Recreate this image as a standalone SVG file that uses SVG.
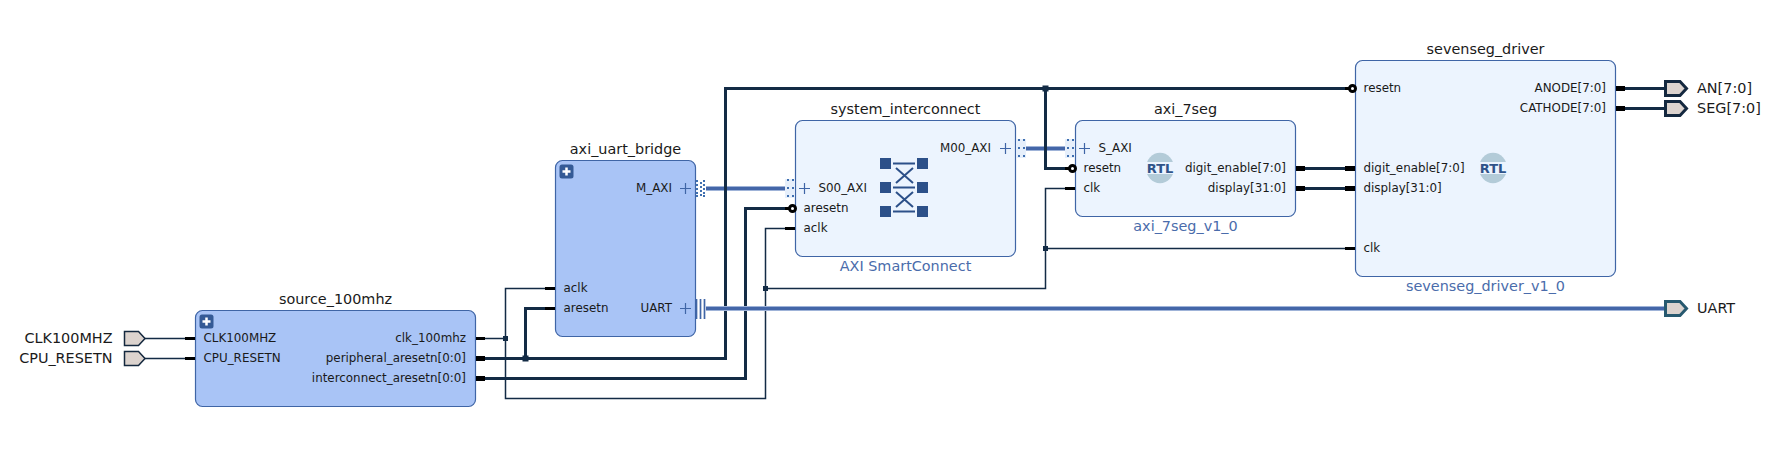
<svg xmlns="http://www.w3.org/2000/svg" xmlns:xlink="http://www.w3.org/1999/xlink" width="1765" height="468" viewBox="0 0 1765 468">
<style>
text{font-family:"DejaVu Sans",Verdana,sans-serif;fill:#1a1a1a}
.l{font-size:11.9px}
.r{font-size:11.9px;text-anchor:end}
.t{font-size:14.4px;text-anchor:middle}
.e{font-size:14.4px}
.er{font-size:14.4px;text-anchor:end}
.s{font-size:14.4px;text-anchor:middle;fill:#4a6cab}
.hier{fill:#a9c4f6;stroke:#3f65a6;stroke-width:1.2}
.ip{fill:#ecf4fe;stroke:#3f65a6;stroke-width:1.2}
.w1{fill:none;stroke:#132b45;stroke-width:1.5}
.w3{fill:none;stroke:#132b45;stroke-width:3}
.ia{fill:none;stroke:#9fb3d8;stroke-width:5}
.ib{fill:none;stroke:#4466a8;stroke-width:3}
.j{fill:#132b45}
.st{fill:#000}
.plus{fill:none;stroke:#3f65a6;stroke-width:1.2}
.bub{fill:#fff;stroke:#000;stroke-width:3}
.dot{fill:#3f6fb0}
.pad{fill:#e6effb}
.ext{fill:#dcd3ce;stroke:#14283f;stroke-width:1.5}
.extb{fill:#dcd3ce;stroke:#14283f;stroke-width:3}
.extu{fill:#dcd3ce;stroke:#27596f;stroke-width:3}
.rtlc{fill:#b3cbd8}
.rtlb{fill:#ecf4fe}
.rtlt{font-size:13px;font-weight:bold;fill:#2f5389;text-anchor:middle}
.ico{fill:#2c5089}
.icl{fill:none;stroke:#2c5089;stroke-width:2}
.icx{fill:none;stroke:#2c5089;stroke-width:2}
</style>
<defs>
<g id="dotsOut">
<rect class="dot" x="696" y="180" width="2" height="2"/><rect class="dot" x="696" y="184" width="2" height="2"/><rect class="dot" x="696" y="188" width="2" height="2"/><rect class="dot" x="696" y="192" width="2" height="2"/><rect class="dot" x="696" y="195" width="2" height="2"/>
<rect class="dot" x="700" y="182" width="2" height="2"/><rect class="dot" x="700" y="186" width="2" height="2"/><rect class="dot" x="700" y="190" width="2" height="2"/><rect class="dot" x="700" y="194" width="2" height="2"/>
<rect class="dot" x="703" y="180" width="2" height="2"/><rect class="dot" x="703" y="184" width="2" height="2"/><rect class="dot" x="703" y="188" width="2" height="2"/><rect class="dot" x="703" y="192" width="2" height="2"/><rect class="dot" x="703" y="195" width="2" height="2"/>
</g>
<g id="dotsIn">
<rect class="pad" x="785" y="179" width="10" height="19"/>
<rect class="dot" x="787" y="179" width="2" height="2"/><rect class="dot" x="792" y="179" width="2" height="2"/>
<rect class="dot" x="787" y="187" width="2" height="2"/><rect class="dot" x="792" y="187" width="2" height="2"/>
<rect class="dot" x="787" y="195" width="2" height="2"/><rect class="dot" x="792" y="195" width="2" height="2"/>
</g>
<g id="rtl">
<ellipse class="rtlc" cx="0" cy="0" rx="14" ry="15.3"/>
<rect class="rtlb" x="-14" y="-6" width="28" height="12"/>
<text class="rtlt" x="0" y="5">RTL</text>
</g>
</defs>

<g id="connectors">
<path class="w1" d="M145 338.5H185"/>
<path class="w1" d="M145 358.5H185"/>
<path class="w1" d="M485 338.5H505.5V288.5H545M505.5 338.5V398.5H765.5V228.5H785M765.5 288.5H1045.5V188.5H1065M1045.5 248.5H1345"/>
<path class="w3" d="M485 358.5H725.5V88.5H1345M525.5 358.5V308.5H545M1045.5 88.5V168.5H1065"/>
<path class="w3" d="M485 378.5H745.5V208.5H785"/>
<path class="w3" d="M1305 168.5H1345M1305 188.5H1345"/>
<path class="w3" d="M1625 88.5H1665M1625 108.5H1665"/>
<path class="ia" d="M706 188.5H785M1025 148.5H1065M706 308.5H1665"/>
<path class="ib" d="M706 188.5H785M1025 148.5H1065M706 308.5H1665"/>
<path class="w3" d="M725.5 180V197"/>
<path class="w3" d="M1045.5 140V157"/>
<rect class="j" x="503" y="336" width="5" height="5"/>
<rect class="j" x="522.5" y="355.5" width="6" height="6"/>
<rect class="j" x="763" y="286" width="5" height="5"/>
<rect class="j" x="1043" y="246" width="5" height="5"/>
<rect class="j" x="1042.5" y="85.5" width="6" height="6"/>
</g>

<g id="port_CLK100MHZ">
<path class="ext" d="M124.5 331.5H138.5L145 338.5L138.5 345.5H124.5Z"/>
<text class="er" x="112.5" y="343">CLK100MHZ</text>
</g>
<g id="port_CPU_RESETN">
<path class="ext" d="M124.5 351.5H138.5L145 358.5L138.5 365.5H124.5Z"/>
<text class="er" x="112.5" y="363">CPU_RESETN</text>
</g>

<g id="source_100mhz">
<text class="t" x="335.5" y="304">source_100mhz</text>
<rect class="hier" x="195.5" y="310.5" width="280" height="96" rx="7"/>
<rect x="199.5" y="314.5" width="14" height="14" rx="2.5" fill="#345a96"/>
<path d="M206.5 317.5V325.5M202.5 321.5H210.5" stroke="#fff" stroke-width="2.5" fill="none"/>
<rect class="st" x="185" y="337" width="10" height="3"/>
<rect class="st" x="185" y="357" width="10" height="3"/>
<rect class="st" x="476" y="337" width="9" height="3"/>
<rect class="st" x="476" y="356" width="9" height="5"/>
<rect class="st" x="476" y="376" width="9" height="5"/>
<text class="l" x="203.5" y="342">CLK100MHZ</text>
<text class="l" x="203.5" y="362">CPU_RESETN</text>
<text class="r" x="466" y="342">clk_100mhz</text>
<text class="r" x="466" y="362">peripheral_aresetn[0:0]</text>
<text class="r" x="466" y="382">interconnect_aresetn[0:0]</text>
</g>

<g id="axi_uart_bridge">
<text class="t" x="625.5" y="154">axi_uart_bridge</text>
<rect class="hier" x="555.5" y="160.5" width="140" height="176" rx="7"/>
<rect x="559.5" y="164.5" width="14" height="14" rx="2.5" fill="#345a96"/>
<path d="M566.5 167.5V175.5M562.5 171.5H570.5" stroke="#fff" stroke-width="2.5" fill="none"/>
<rect class="st" x="545" y="287" width="10" height="3"/>
<rect class="st" x="545" y="307" width="10" height="3"/>
<use xlink:href="#dotsOut" href="#dotsOut"/>
<path d="M696.5 299V319M700.5 299V319M704.5 299V319" stroke="#3f65a6" stroke-width="1.7" fill="none"/>
<path class="plus" d="M685.5 183V194M680 188.5H691M685.5 303V314M680 308.5H691"/>
<text class="l" x="563.5" y="292">aclk</text>
<text class="l" x="563.5" y="312">aresetn</text>
<text class="r" x="672" y="192">M_AXI</text>
<text class="r" x="672" y="312">UART</text>
</g>

<g id="system_interconnect">
<text class="t" x="905.5" y="114">system_interconnect</text>
<rect class="ip" x="795.5" y="120.5" width="220" height="136" rx="7"/>
<use xlink:href="#dotsIn" href="#dotsIn"/>
<use xlink:href="#dotsIn" href="#dotsIn" x="231" y="-40"/>
<rect class="st" x="785" y="207" width="4" height="3"/>
<circle class="bub" cx="792.5" cy="208.5" r="3"/>
<rect class="st" x="785" y="227" width="10" height="3"/>
<path class="plus" d="M804.5 183V194M799 188.5H810M1005.5 143V154M1000 148.5H1011"/>
<text class="l" x="818.5" y="192">S00_AXI</text>
<text class="l" x="803.5" y="212">aresetn</text>
<text class="l" x="803.5" y="232">aclk</text>
<text class="r" x="991" y="152">M00_AXI</text>
<g id="smartconnect_icon">
<rect class="ico" x="880" y="158" width="11" height="11"/><rect class="ico" x="917" y="158" width="11" height="11"/>
<rect class="ico" x="880" y="182" width="11" height="11"/><rect class="ico" x="917" y="182" width="11" height="11"/>
<rect class="ico" x="880" y="206" width="11" height="11"/><rect class="ico" x="917" y="206" width="11" height="11"/>
<path class="icl" d="M893 163.5H915M893 187.5H915M893 211.5H915"/>
<path class="icx" d="M896 168L913 183M913 168L896 183M896 192L913 207M913 192L896 207"/>
</g>
<text class="s" x="905.5" y="271">AXI SmartConnect</text>
</g>

<g id="axi_7seg">
<text class="t" x="1185.5" y="114">axi_7seg</text>
<rect class="ip" x="1075.5" y="120.5" width="220" height="96" rx="7"/>
<use xlink:href="#dotsIn" href="#dotsIn" x="280" y="-40"/>
<rect class="st" x="1065" y="167" width="4" height="3"/>
<circle class="bub" cx="1072.5" cy="168.5" r="3"/>
<rect class="st" x="1065" y="187" width="10" height="3"/>
<rect class="st" x="1296" y="166" width="9" height="5"/>
<rect class="st" x="1296" y="186" width="9" height="5"/>
<path class="plus" d="M1084.5 143V154M1079 148.5H1090"/>
<text class="l" x="1098.5" y="152">S_AXI</text>
<text class="l" x="1083.5" y="172">resetn</text>
<text class="l" x="1083.5" y="192">clk</text>
<text class="r" x="1286" y="172">digit_enable[7:0]</text>
<text class="r" x="1286" y="192">display[31:0]</text>
<use xlink:href="#rtl" href="#rtl" x="1160" y="168"/>
<text class="s" x="1185.5" y="231">axi_7seg_v1_0</text>
</g>

<g id="sevenseg_driver">
<text class="t" x="1485.5" y="54">sevenseg_driver</text>
<rect class="ip" x="1355.5" y="60.5" width="260" height="216" rx="7"/>
<rect class="st" x="1345" y="87" width="4" height="3"/>
<circle class="bub" cx="1352.5" cy="88.5" r="3"/>
<rect class="st" x="1345" y="166" width="10" height="5"/>
<rect class="st" x="1345" y="186" width="10" height="5"/>
<rect class="st" x="1345" y="247" width="10" height="3"/>
<rect class="st" x="1616" y="86" width="9" height="5"/>
<rect class="st" x="1616" y="106" width="9" height="5"/>
<text class="l" x="1363.5" y="92">resetn</text>
<text class="l" x="1363.5" y="172">digit_enable[7:0]</text>
<text class="l" x="1363.5" y="192">display[31:0]</text>
<text class="l" x="1363.5" y="252">clk</text>
<text class="r" x="1606" y="92">ANODE[7:0]</text>
<text class="r" x="1606" y="112">CATHODE[7:0]</text>
<use xlink:href="#rtl" href="#rtl" x="1493" y="168"/>
<text class="s" x="1485.5" y="291">sevenseg_driver_v1_0</text>
</g>

<g id="port_AN">
<path class="extb" d="M1665.5 81.5H1680L1686.5 88.5L1680 95.5H1665.5Z"/>
<text class="e" x="1697" y="93">AN[7:0]</text>
</g>
<g id="port_SEG">
<path class="extb" d="M1665.5 101.5H1680L1686.5 108.5L1680 115.5H1665.5Z"/>
<text class="e" x="1697" y="113">SEG[7:0]</text>
</g>
<g id="port_UART">
<path class="extu" d="M1665.5 301.5H1680L1686.5 308.5L1680 315.5H1665.5Z"/>
<text class="e" x="1697" y="313">UART</text>
</g>
</svg>
